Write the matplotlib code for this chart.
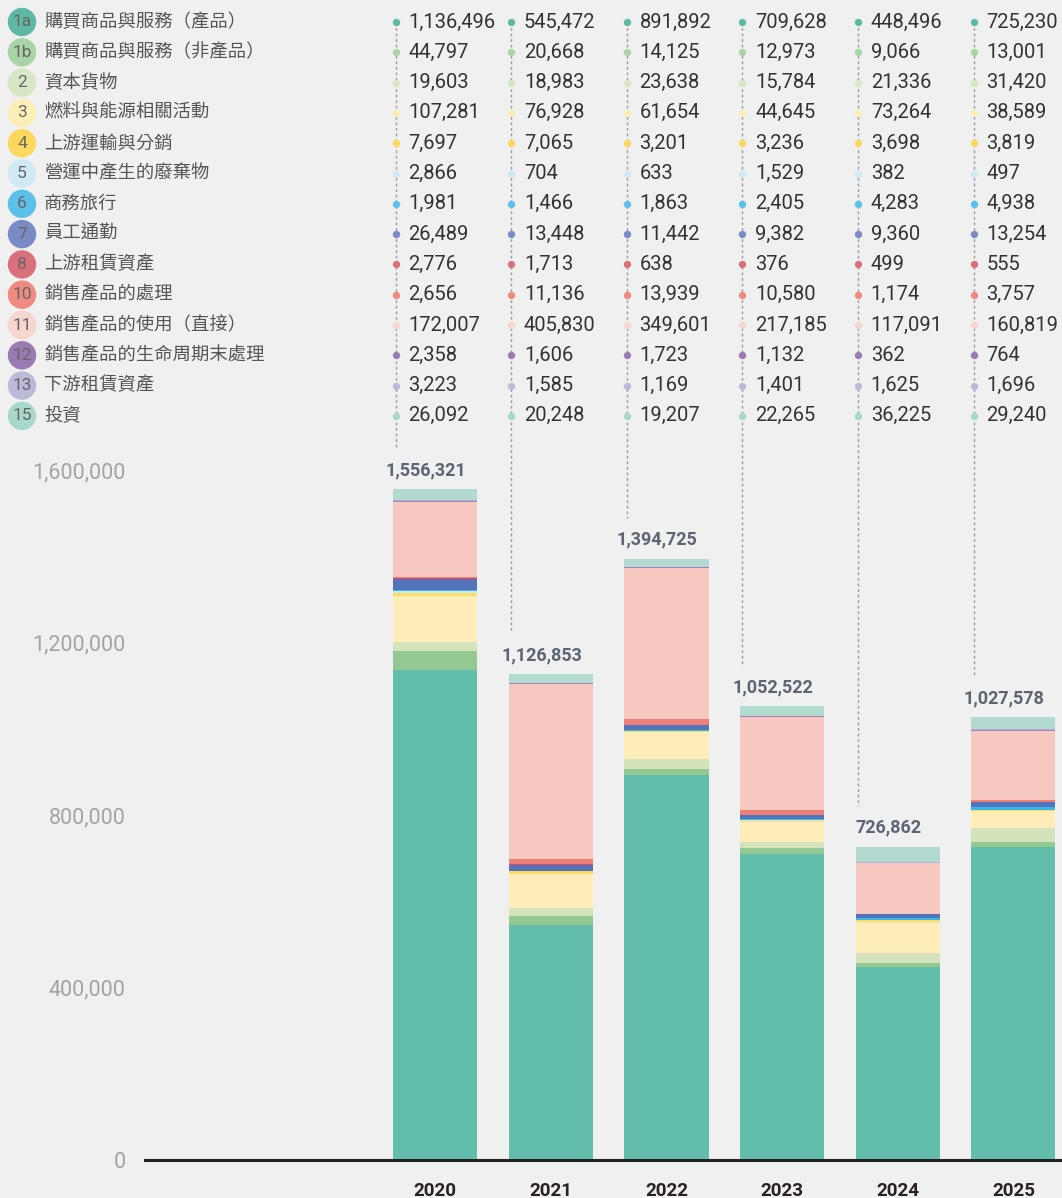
import numpy as np
import matplotlib.pyplot as plt
from matplotlib import transforms
from matplotlib.patches import Ellipse

# categories (scope 3) and yearly values
codes = ['1a', '1b', '2', '3', '4', '5', '6', '7', '8', '10', '11', '12', '13', '15']
names = ['購買商品與服務（產品）', '購買商品與服務（非產品）', '資本貨物', '燃料與能源相關活動',
         '上游運輸與分銷', '營運中產生的廢棄物', '商務旅行', '員工通勤', '上游租賃資產',
         '銷售產品的處理', '銷售產品的使用（直接）', '銷售產品的生命周期末處理', '下游租賃資產', '投資']
years = ['2020', '2021', '2022', '2023', '2024', '2025']

v1a = [1136496, 545472, 891892, 709628, 448496, 725230]
v1b = [44797, 20668, 14125, 12973, 9066, 13001]
v2 = [19603, 18983, 23638, 15784, 21336, 31420]
v3 = [107281, 76928, 61654, 44645, 73264, 38589]
v4 = [7697, 7065, 3201, 3236, 3698, 3819]
v5 = [2866, 704, 633, 1529, 382, 497]
v6 = [1981, 1466, 1863, 2405, 4283, 4938]
v7 = [26489, 13448, 11442, 9382, 9360, 13254]
v8 = [2776, 1713, 638, 376, 499, 555]
v10 = [2656, 11136, 13939, 10580, 1174, 3757]
v11 = [172007, 405830, 349601, 217185, 117091, 160819]
v12 = [2358, 1606, 1723, 1132, 362, 764]
v13 = [3223, 1585, 1169, 1401, 1625, 1696]
v15 = [26092, 20248, 19207, 22265, 36225, 29240]
totals = [1556321, 1126853, 1394725, 1052522, 726862, 1027578]

series = [v1a, v1b, v2, v3, v4, v5, v6, v7, v8, v10, v11, v12, v13, v15]

bar_colors = ['#62bdab', '#94c893', '#d4e3bc', '#feedb8', '#fddc62', '#d0e9f5', '#35b7e8',
              '#5374ba', '#d9495f', '#ee7e76', '#f6c8c0', '#a385bd', '#b3b0d6', '#b2dad1']
dot_colors = ['#5fb8a3', '#a8d4a6', '#d7e6c4', '#fdeeb8', '#fcd95e', '#d0e9f5', '#5cc0ea',
              '#7a8ac4', '#d9707c', '#f08a80', '#f7d5d1', '#9a7ab3', '#bcbad9', '#a8d8cc']

bg = '#eff0ef'
W, H = 1062, 1198
cjk = ['Noto Sans CJK TC', 'DejaVu Sans']

fig = plt.figure(figsize=(W / 100, H / 100), dpi=100, facecolor=bg)
ax = fig.add_axes([145 / W, (H - 1160) / H, (W - 145) / W, 1160 / H])
ax.set_facecolor(bg)

ymax = 1160 / 172.5 * 400000
ax.set_ylim(0, ymax)
ax.set_xlim(-2.51, 5.42)
bw = 0.727
x = np.arange(len(years))

bottom = np.zeros(len(years))
for vals, c in zip(series, bar_colors):
    ax.bar(x, vals, bw, bottom=bottom, color=c, linewidth=0, zorder=2)
    bottom += np.array(vals)

# totals above the bars
for i, t in enumerate(totals):
    ax.annotate(f'{t:,}', (x[i] - 0.08, bottom[i]), xytext=(0, 7), textcoords='offset points',
                ha='center', va='bottom', fontsize=13, fontweight='bold',
                color='#5d6472', family='Roboto')

# axes styling
for s in ['top', 'right', 'left']:
    ax.spines[s].set_visible(False)
ax.spines['bottom'].set_color('#222222')
ax.spines['bottom'].set_linewidth(2.2)
ax.set_yticks([0, 400000, 800000, 1200000, 1600000])
ax.set_yticklabels([f'{v:,}' for v in [0, 400000, 800000, 1200000, 1600000]])
ax.tick_params(axis='y', length=0, pad=14, labelsize=15.5, labelcolor='#a3a3a3')
for lab in ax.get_yticklabels():
    lab.set_family('Roboto')
ax.set_xticks(x)
ax.set_xticklabels(years)
ax.tick_params(axis='x', length=0, pad=16, labelsize=13.5, labelcolor='#2a2222')
for lab in ax.get_xticklabels():
    lab.set_family('Roboto')
    lab.set_fontweight('bold')

# data table on top
blend = transforms.blended_transform_factory(ax.transData, ax.transAxes)
row_y = [1 - (22 + 30.3 * k) / 1160 for k in range(len(codes))]
for i in range(len(years)):
    xl = x[i] - bw / 2 + 0.02
    end = (bottom[i] + 95000) / ymax
    ax.plot([xl, xl], [row_y[0], end], transform=blend, ls=(0, (2, 2)), lw=1,
            color='#9a9aa2', zorder=1, clip_on=False)
    for k, vals in enumerate(series):
        ax.scatter([xl], [row_y[k]], s=28, color=dot_colors[k], transform=blend,
                   zorder=3, clip_on=False, linewidths=0)
        ax.text(xl + 0.11, row_y[k], f'{vals[i]:,}', transform=blend, ha='left',
                va='center', fontsize=14.5, color='#333333', family='Roboto')

# legend with numbered circles
for k in range(len(codes)):
    yf = 1 - (22 + 30.3 * k) / H
    fig.patches.append(Ellipse((22 / W, yf), 27 / W, 27 / H, transform=fig.transFigure,
                               color=dot_colors[k], zorder=2))
    fig.text(22 / W, yf, codes[k], ha='center', va='center', fontsize=12.5,
             color='#666666', family='Roboto', zorder=3)
    fig.text(44 / W, yf, names[k], ha='left', va='center', fontsize=13.2,
             color='#555555', family=cjk)

fig.savefig('out.png', dpi=100, facecolor=bg)
